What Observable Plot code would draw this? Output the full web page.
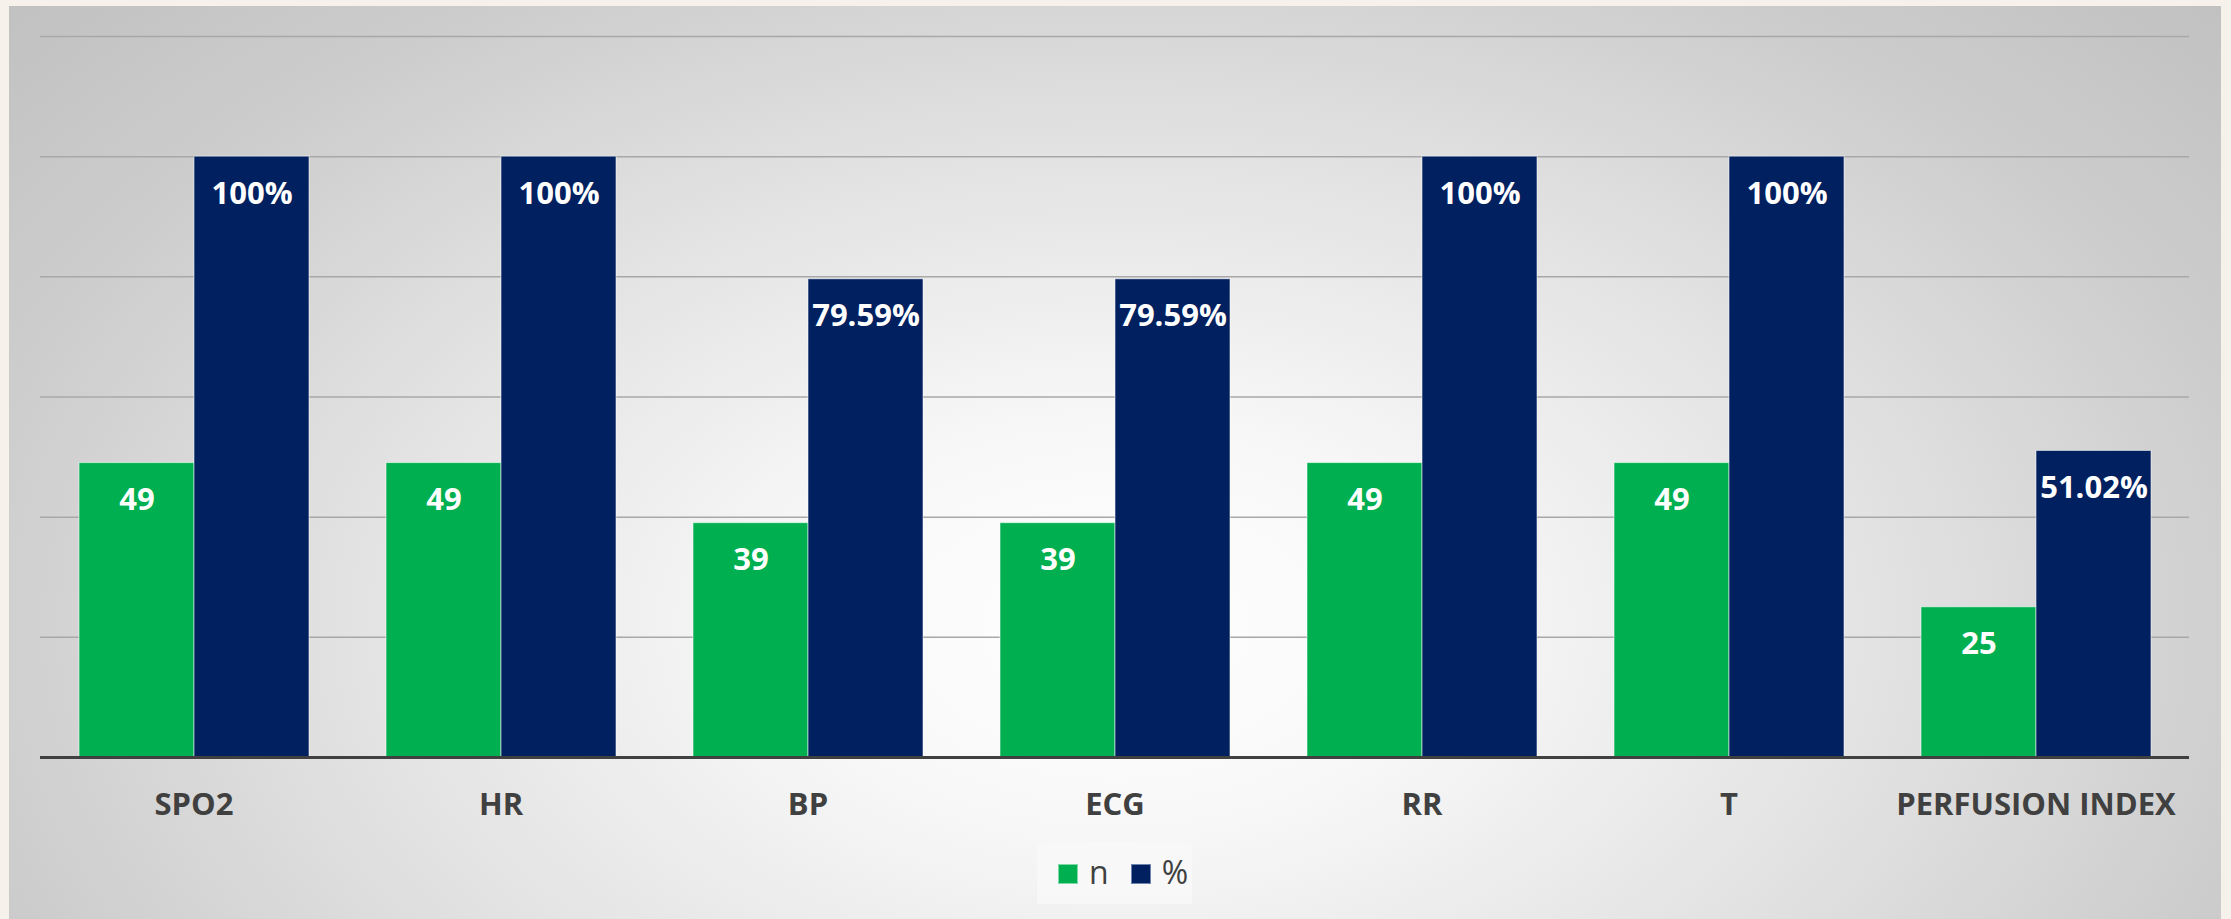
<!DOCTYPE html>
<html>
<head>
<meta charset="utf-8">
<script src="https://cdn.jsdelivr.net/npm/d3@7"></script>
<script src="https://cdn.jsdelivr.net/npm/@observablehq/plot@0.6"></script>
<style>
  html, body { margin: 0; padding: 0; }
  body {
    width: 2231px; height: 919px; position: relative; overflow: hidden;
    background: #f6f1ea; font-family: "Open Sans", sans-serif;
  }
  #panel {
    position: absolute; left: 9px; top: 6px; width: 2212px; height: 913px;
    background: radial-gradient(ellipse 70% 105% at 50% 68%, #ffffff 0%, #f7f7f7 22%, #e2e2e2 50%, #cdcdcd 75%, #bfbfbf 100%);
  }
  #chart { position: absolute; left: 0; top: 0; }
  #legend {
    position: absolute; left: 1037px; top: 843px; width: 155px; height: 61px;
    background: rgba(250,250,250,0.7);
    display: flex; align-items: center; box-sizing: border-box; padding-left: 21px;
    font-family: "Open Sans", sans-serif; font-size: 32px; color: #404040;
  }
  #legend .sw { flex: 0 0 20px; width: 20px; height: 20px; box-sizing: border-box; display: block; }
  #legend .lab { flex: 0 0 auto; margin-left: 11px; margin-right: 22px; line-height: 1; position: relative; top: -2px; }
</style>
</head>
<body>
<div id="panel"></div>
<div id="chart"></div>
<div id="legend"></div>
<script>
const categories = ["SPO2", "HR", "BP", "ECG", "RR", "T", "PERFUSION INDEX"];
const nValues = [49, 49, 39, 39, 49, 49, 25];
const pctValues = [100, 100, 79.59, 79.59, 100, 100, 51.02];
const seriesNames = ["n", "%"];
const seriesColors = ["#00b050", "#002060"];
const seriesBorders = ["#7fd9a6", "#6f85b0"];
const yTicks = [20, 40, 60, 80, 100, 120];

const data = categories.flatMap((c, i) => [
  {cat: c, series: "n", value: nValues[i], label: String(nValues[i])},
  {cat: c, series: "%", value: pctValues[i], label: pctValues[i] + "%"}
]);

const chart = Plot.plot({
  width: 2231,
  height: 840,
  marginLeft: 40,
  marginRight: 42,
  marginTop: 36,
  marginBottom: 83,
  style: {background: "transparent", overflow: "visible", fontFamily: "Open Sans, sans-serif"},
  fx: {domain: categories, padding: 0, label: null},
  x: {domain: seriesNames, paddingInner: 0, paddingOuter: 0.329, axis: null},
  y: {domain: [0, 120], axis: null},
  color: {domain: seriesNames, range: seriesColors},
  marks: [
    Plot.ruleY(yTicks, {stroke: "#a8a8a8", strokeWidth: 1.5}),
    Plot.barY(data, {fx: "cat", x: "series", y: "value", fill: "series", stroke: "#ffffff", strokeOpacity: 0.55, strokeWidth: 1}),
    Plot.text(data, {fx: "cat", x: "series", y: "value", text: "label", fill: "white",
      fontSize: 31, fontWeight: "bold", lineAnchor: "top", dy: 25}),
    Plot.ruleY([0], {stroke: "#404040", strokeWidth: 3}),
    Plot.axisFx({anchor: "bottom", tickSize: 0, tickPadding: 35, fontSize: 31, fontWeight: "bold",
      fill: "#404040", label: null})
  ]
});
document.getElementById("chart").appendChild(chart);

const legend = document.getElementById("legend");
seriesNames.forEach((s, i) => {
  const sw = document.createElement("span");
  sw.className = "sw";
  sw.style.background = seriesColors[i];
  sw.style.border = "1.5px solid " + seriesBorders[i];
  const lab = document.createElement("span");
  lab.className = "lab";
  lab.textContent = s;
  legend.appendChild(sw);
  legend.appendChild(lab);
});
</script>
</body>
</html>
